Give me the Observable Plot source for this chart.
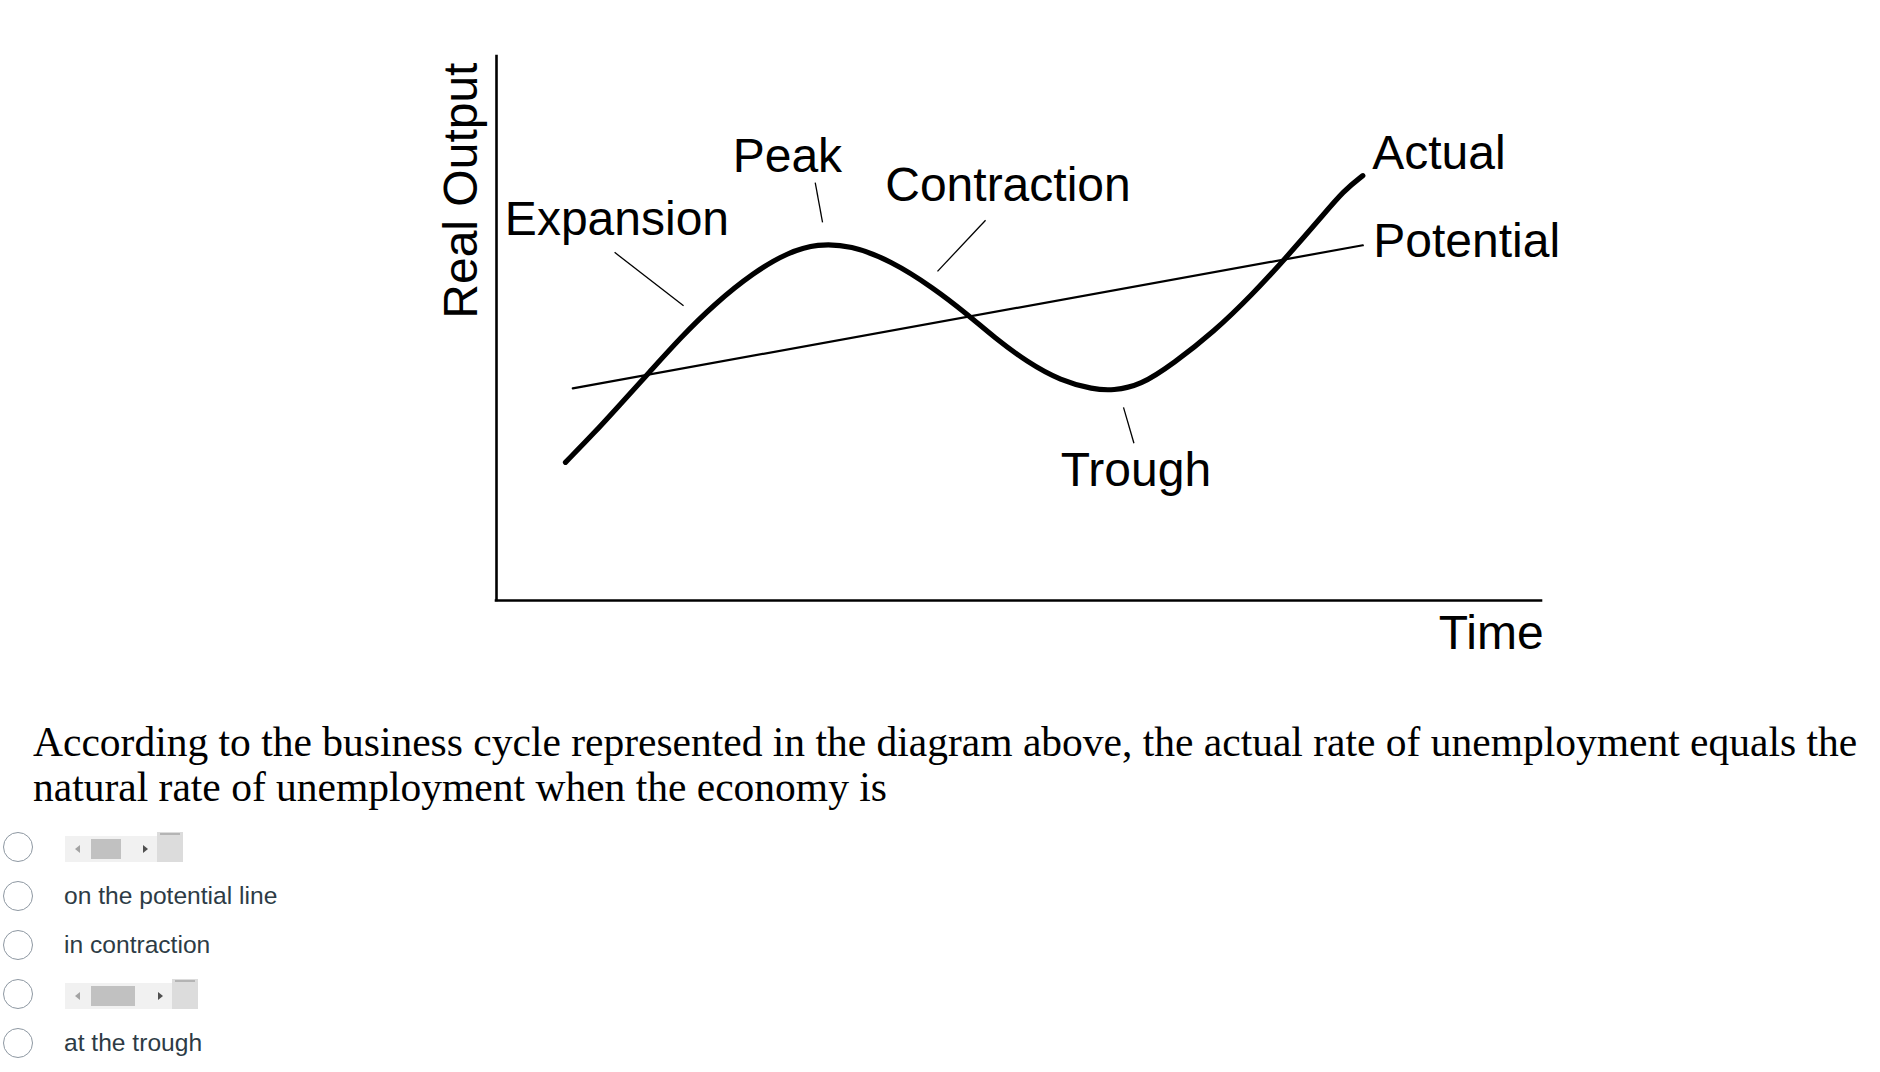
<!DOCTYPE html>
<html>
<head>
<meta charset="utf-8">
<script src="https://cdn.jsdelivr.net/npm/d3@7"></script>
<script src="https://cdn.jsdelivr.net/npm/@observablehq/plot@0.6"></script>
<style>
  html, body { margin: 0; padding: 0; background: #fff; }
  body { width: 1880px; height: 1072px; overflow: hidden; position: relative; font-family: "Liberation Sans", Arial, sans-serif; }
  #chart { position: absolute; left: 0; top: 0; }
  .q { position: absolute; left: 33px; top: 720px; font-family: "Liberation Serif", "Times New Roman", serif; font-size: 41.5px; line-height: 45px; color: #000; white-space: nowrap; }
  .radio { position: absolute; left: 3px; width: 30px; height: 30px; box-sizing: border-box; border: 1.6px solid #8e98a2; border-radius: 50%; background: #fff; }
  .optText { position: absolute; left: 64px; font-size: 24.6px; line-height: 24px; color: #2d3b45; white-space: nowrap; }
  .sb { position: absolute; left: 65px; background: #f1f1f1; }
  .sb .thumb { position: absolute; left: 26px; top: 3px; bottom: 3px; background: #c1c1c1; }
  .sb .la { position: absolute; left: 10px; top: 9px; width: 0; height: 0; border-top: 4px solid transparent; border-bottom: 4px solid transparent; border-right: 5px solid #a3a3a3; }
  .sb .ra { position: absolute; top: 9px; width: 0; height: 0; border-top: 4px solid transparent; border-bottom: 4px solid transparent; border-left: 5px solid #505050; }
  .sq { position: absolute; background: #dcdcdc; }
  .sq .ln { position: absolute; left: 3px; right: 3px; top: 1px; height: 2px; background: #b4b4b4; }
</style>
</head>
<body>
<div id="chart"></div>
<div class="q">According to the business cycle represented in the diagram above, the actual rate of unemployment equals the<br>natural rate of unemployment when the economy is</div>
<div id="options"></div>
<script>
// ---- Chart data (time and real output in arbitrary 0–100 units) ----
const actualTime   = [6.6, 9.3, 11.9, 14.6, 17.6, 20.8, 24.6, 27.9, 30.7, 33.9, 37.7, 41.8, 45.2, 47.6, 50.8, 54.0, 57.1, 59.0, 61.6, 64.8, 68.6, 72.4, 75.5, 78.9, 81.1, 82.9];
const actualOutput = [25.4, 30.7, 36.2, 41.9, 48.3, 54.4, 60.3, 64.0, 65.6, 65.3, 62.5, 57.5, 52.4, 48.4, 43.8, 40.4, 38.8, 38.6, 39.5, 43.6, 49.3, 56.4, 62.9, 70.4, 75.4, 78.1];
const potentialTime   = [7.3, 82.9];
const potentialOutput = [39.0, 65.3];

// Annotation labels (anchored in the same time / output units)
const labelText   = ["Expansion", "Peak", "Contraction", "Trough", "Actual", "Potential"];
const labelTime   = [0.8, 22.6, 37.2, 54.0, 83.8, 83.9];
const labelOutput = [67.1, 78.7, 73.5, 21.1, 79.4, 63.1];

// Leader lines from labels to curve
const leaderTime1   = [11.3, 30.5, 46.8, 60.0];
const leaderOutput1 = [64.0, 76.8, 69.9, 35.5];
const leaderTime2   = [17.9, 31.2, 42.2, 61.0];
const leaderOutput2 = [54.2, 69.5, 60.5, 28.9];

const xTitle = "Time";
const yTitle = "Real Output";

// ---- Build tables ----
const actual = actualTime.map((t, i) => ({time: t, output: actualOutput[i]}));
const potential = potentialTime.map((t, i) => ({time: t, output: potentialOutput[i]}));
const labels = labelText.map((s, i) => ({text: s, time: labelTime[i], output: labelOutput[i]}));
const leaders = leaderTime1.map((t, i) => ({t1: t, o1: leaderOutput1[i], t2: leaderTime2[i], o2: leaderOutput2[i]}));

const font = "Liberation Sans, Arial, Helvetica, sans-serif";

const chart = Plot.plot({
  width: 1880,
  height: 680,
  marginLeft: 496,
  marginRight: 339,
  marginTop: 56,
  marginBottom: 80,
  style: {fontFamily: font, background: "transparent", overflow: "visible"},
  x: {domain: [0, 100], axis: null},
  y: {domain: [0, 100], axis: null},
  marks: [
    Plot.ruleX([0], {y1: 0, y2: 100, stroke: "#000", strokeWidth: 2.6, strokeLinecap: "square"}),
    Plot.ruleY([0], {x1: 0, x2: 100, stroke: "#000", strokeWidth: 2.6, strokeLinecap: "square"}),
    Plot.line(potential, {x: "time", y: "output", stroke: "#000", strokeWidth: 2.2}),
    Plot.line(actual, {x: "time", y: "output", stroke: "#000", strokeWidth: 5.2, curve: "basis", strokeLinecap: "round"}),
    Plot.link(leaders, {x1: "t1", y1: "o1", x2: "t2", y2: "o2", stroke: "#000", strokeWidth: 1.3}),
    Plot.text(labels, {x: "time", y: "output", text: "text", textAnchor: "start", lineAnchor: "bottom", fontSize: 48, fill: "#000", fontFamily: font}),
    Plot.text([xTitle], {x: 100.2, y: -9.0, text: d => d, textAnchor: "end", lineAnchor: "bottom", fontSize: 48, fill: "#000", fontFamily: font}),
    Plot.text([yTitle], {x: -1.9, y: 51.8, text: d => d, rotate: -90, textAnchor: "start", lineAnchor: "bottom", fontSize: 48, fill: "#000", fontFamily: font})
  ]
});
document.getElementById("chart").appendChild(chart);

// ---- Answer options ----
const optionCenters = [847, 896, 945, 994, 1043];
const optionTexts = [null, "on the potential line", "in contraction", null, "at the trough"];
const sbWidths = [92, 107];      // scrollbar track widths for the two widget options
const sbThumbs = [30, 44];
let sbIdx = 0;
const opts = document.getElementById("options");
optionCenters.forEach((c, i) => {
  const r = document.createElement("div");
  r.className = "radio";
  r.style.top = (c - 15) + "px";
  opts.appendChild(r);
  if (optionTexts[i]) {
    const t = document.createElement("div");
    t.className = "optText";
    t.style.top = (c + 8 - 20) + "px";
    t.textContent = optionTexts[i];
    opts.appendChild(t);
  } else {
    const w = sbWidths[sbIdx], th = sbThumbs[sbIdx];
    sbIdx++;
    const sb = document.createElement("div");
    sb.className = "sb";
    sb.style.top = (c - 11) + "px";
    sb.style.width = w + "px";
    sb.style.height = "26px";
    sb.innerHTML = `<div class="la"></div><div class="thumb" style="width:${th}px"></div><div class="ra" style="left:${w - 14}px"></div>`;
    opts.appendChild(sb);
    const sq = document.createElement("div");
    sq.className = "sq";
    sq.style.left = (65 + w) + "px";
    sq.style.top = (c - 15) + "px";
    sq.style.width = "26px";
    sq.style.height = "30px";
    sq.innerHTML = `<div class="ln"></div>`;
    opts.appendChild(sq);
  }
});
</script>
</body>
</html>
